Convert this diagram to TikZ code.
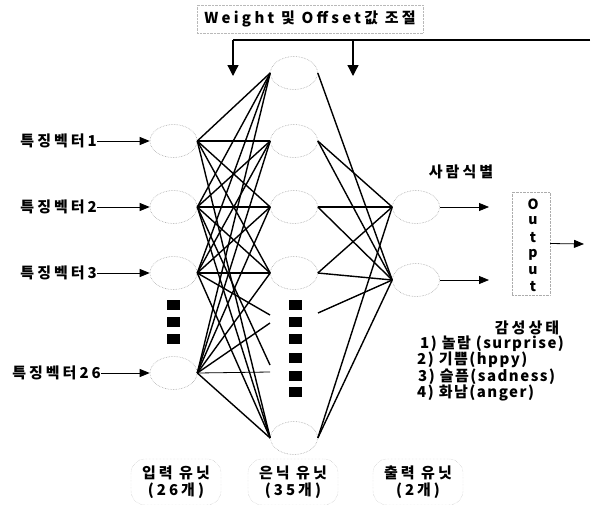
\documentclass[tikz,border=0pt]{standalone}
\usepackage{fontspec}
\usetikzlibrary{shapes.geometric,arrows.meta}
\newfontfamily\krA{Noto Sans CJK KR}[LetterSpace=20]
\newfontfamily\krB{Noto Sans CJK KR}[LetterSpace=22]
\newfontfamily\krC{Noto Sans CJK KR}[LetterSpace=10]
\newfontfamily\krD{Noto Sans CJK KR}[LetterSpace=20]
\begin{document}
\begin{tikzpicture}[x=1pt,y=-1pt,
  unit/.style={draw=gray!70, densely dotted, line width=0.6pt, ellipse, minimum width=47pt, minimum height=33pt, inner sep=0pt},
  conn/.style={line width=1.4pt},
  sq/.style={fill=black, minimum width=13pt, minimum height=10pt, inner sep=0pt},
  arr/.style={-{Triangle[length=10pt,width=8pt]}, line width=0.8pt},
  bigarr/.style={-{Triangle[length=11pt,width=11pt]}, line width=1.3pt},
  inlbl/.style={font=\krA\bfseries\fontsize{15}{18}\selectfont, inner sep=0pt, anchor=east},
  txt/.style={font=\krA\bfseries\fontsize{15}{18}\selectfont, inner sep=0pt},
  ttl/.style={font=\krB\bfseries\fontsize{15}{18}\selectfont, inner sep=0pt},
  leg/.style={font=\krC\bfseries\fontsize{15}{17}\selectfont, inner sep=0pt, anchor=west},
  lbox/.style={draw=gray!60, densely dotted, rounded corners=14pt, minimum width=90pt, minimum height=46pt, inner sep=0pt, align=center, font=\krD\bfseries\fontsize{15}{17}\selectfont}
]
\useasboundingbox (0,0) rectangle (594,504);
% top label and feedback
\node[draw=gray!55, densely dotted, minimum width=226pt, minimum height=28pt, ttl] (tb) at (310,19) {Weight 및 Offset값 조절};
\coordinate (fbR) at (590,40);
\coordinate (fb1) at (233,40);
\coordinate (fb2) at (353,40);
\coordinate (fb1e) at (233,76);
\coordinate (fb2e) at (353,76);
\draw[line width=1.3pt] (fbR) -- (fb1);
\draw[bigarr] (fb1) -- (fb1e);
\draw[bigarr] (fb2) -- (fb2e);
% input units
\node[unit] (i1) at (173.5,141) {};
\node[unit] (i2) at (173.5,207) {};
\node[unit] (i3) at (173.5,273) {};
\node[unit] (i26) at (173.5,373) {};
% hidden units
\node[unit] (h1) at (294,73) {};
\node[unit] (h2) at (294,141) {};
\node[unit] (h3) at (294,207) {};
\node[unit] (h4) at (294,273) {};
\node[unit] (hb) at (294,438) {};
% output units
\node[unit] (o1) at (416,207) {};
\node[unit] (o2) at (416,280) {};
% stubs
\coordinate (s1) at (270,315);
\coordinate (s2) at (270,323);
\coordinate (s3) at (270,365);
\coordinate (s4) at (270,372);
\coordinate (t1) at (318,313);
% input -> hidden
\foreach \i in {i1,i2,i3,i26}{
  \foreach \h in {h1,h2,h3,h4,hb}{
    \draw[conn] (\i.east) -- (\h.west);
  }
}
\draw[conn] (i3.east) -- (s1);
\draw[conn] (i26.east) -- (s2);
\draw[conn] (i2.east) -- (s3);
\draw[line width=0.8pt] (i26.east) -- (s4);
% hidden -> output
\draw[conn] (h1.east) -- (o2.west);
\draw[conn] (h2.east) -- (o1.west);
\draw[conn] (h2.east) -- (o2.west);
\draw[conn] (h3.east) -- (o1.west);
\draw[conn] (h3.east) -- (o2.west);
\draw[conn] (h4.east) -- (o1.west);
\draw[conn] (h4.east) -- (o2.west);
\draw[conn] (t1) -- (o2.west);
\draw[conn] (hb.east) -- (o1.west);
\draw[conn] (hb.east) -- (o2.west);
% squares
\foreach \y/\n in {305/a,322/b,339/c}{ \node[sq] (qi\n) at (173,\y) {}; }
\foreach \y/\n in {305/a,322/b,339/c,358/d,376/e,392/f}{ \node[sq] (qh\n) at (295,\y) {}; }
% input labels
\node[inlbl] (l1) at (97,141) {특징벡터1};
\node[inlbl] (l2) at (97,207) {특징벡터2};
\node[inlbl] (l3) at (97,273) {특징벡터3};
\node[inlbl] (l26) at (101,373) {특징벡터26};
\draw[arr] (l1.east) -- (i1.west);
\draw[arr] (l2.east) -- (i2.west);
\draw[arr] (l3.east) -- (i3.west);
\draw[arr] (l26.east) -- (i26.west);
% output side
\node[txt] (pid) at (461,172) {사람식별};
\coordinate (a1) at (489,207);
\coordinate (a2) at (489,280);
\draw[arr] (o1.east) -- (a1);
\draw[arr] (o2.east) -- (a2);
\node[draw=gray!65, densely dotted, minimum width=38pt, minimum height=103pt, inner sep=0pt] (ob) at (531,243.5) {};
\foreach \y/\c in {204/O,221/u,238/t,255/p,271/u,287/t}{
  \node[font=\krC\bfseries\fontsize{14}{14}\selectfont, inner sep=0pt] at (533,\y) {\c};
}
\coordinate (a3) at (584,244);
\draw[arr] (ob.east) -- (a3);
% legend
\node[txt] (lg0) at (527,328) {감성상태};
\node[leg] (lg1) at (420,344) {1) 놀람 (surprise)};
\node[leg] (lg2) at (417,360) {2) 기쁨(hppy)};
\node[leg] (lg3) at (418,377) {3) 슬픔(sadness)};
\node[leg] (lg4) at (417,393) {4) 화남(anger)};
% bottom labels
\node[lbox] (bi) at (176,482) {입력 유닛\\(26개)};
\node[lbox] (bh) at (293,482) {은닉 유닛\\(35개)};
\node[lbox] (bo) at (418,482) {출력 유닛\\(2개)};
\end{tikzpicture}
\end{document}
